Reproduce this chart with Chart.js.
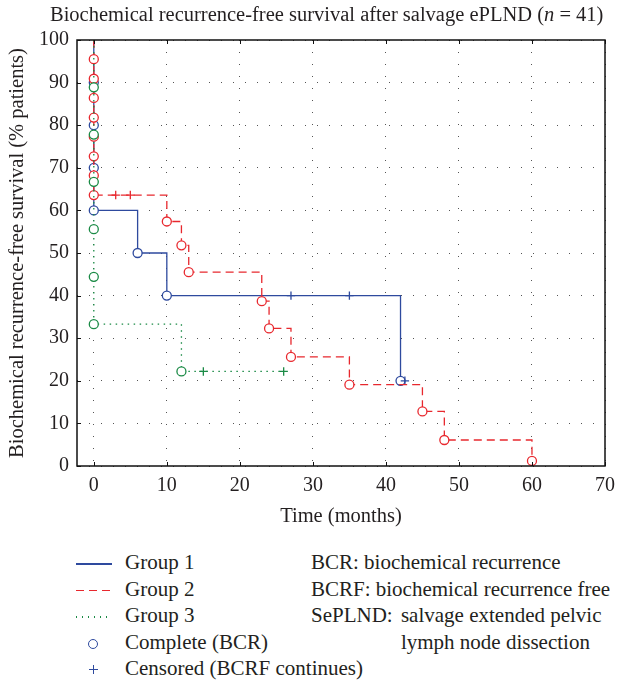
<!DOCTYPE html>
<html>
<head>
<meta charset="utf-8">
<script src="https://cdn.jsdelivr.net/npm/chart.js@4"></script>
<style>
  body { margin: 0; background: #fff; }
  #wrap { position: relative; width: 617px; height: 683px; font-family: "Liberation Serif", serif; color: #231f20; }
  #chartTitle { position: absolute; left: 50px; top: 3px; font-size: 20.5px; white-space: nowrap; }
  #survChart { position: absolute; left: 0; top: 0; }
  .legend { position: absolute; top: 549px; font-size: 21px; line-height: 26.5px; white-space: nowrap; }
  .sample { display: inline-block; position: relative; width: 36px; height: 10px; vertical-align: middle; margin-right: 13px; }
  .line { position: absolute; left: 0; right: 0; top: 4px; height: 1.5px; }
  .circle { position: absolute; left: 12px; top: 0; width: 8px; height: 8px; border: 1.3px solid #2e4a9e; border-radius: 50%; }
  .plus { position: absolute; left: 13px; top: 0; width: 9px; height: 9px;
    background: linear-gradient(#2e4a9e, #2e4a9e) center / 1.4px 9px no-repeat,
                linear-gradient(#2e4a9e, #2e4a9e) center / 9px 1.4px no-repeat; }
</style>
</head>
<body>
<div id="wrap">
  <canvas id="survChart" width="617" height="540"></canvas>
  <div id="chartTitle">Biochemical recurrence-free survival after salvage ePLND (<i>n</i> = 41)</div>
  <div class="legend" style="left:76px">
    <div><span class="sample"><span class="line" style="background:#2e4a9e"></span></span>Group 1</div>
    <div><span class="sample"><span class="line" style="background:repeating-linear-gradient(90deg,#e8282e 0 8px,transparent 8px 13px)"></span></span>Group 2</div>
    <div><span class="sample"><span class="line" style="background:repeating-linear-gradient(90deg,#1a8a45 0 1.5px,transparent 1.5px 6px)"></span></span>Group 3</div>
    <div><span class="sample"><span class="circle"></span></span>Complete (BCR)</div>
    <div><span class="sample"><span class="plus"></span></span>Censored (BCRF continues)</div>
  </div>
  <div class="legend" style="left:311px">
    <div>BCR: biochemical recurrence</div>
    <div>BCRF: biochemical recurrence free</div>
    <div>SePLND: <span style="display:inline-block;vertical-align:top;margin-left:3px">salvage extended pelvic<br>lymph node dissection</span></div>
  </div>
</div>
<script>
// Kaplan-Meier steps (months, % free)
const g1Months = [0, 0, 0, 0, 0, 6, 10, 27, 35, 42, 42.6];
const g1Surv = [100, 90, 80, 70, 60, 50, 40, 40, 40, 20, 20];
const g1Mark = ["", "o", "o", "o", "o", "o", "o", "+", "+", "o", "+"];

const g2Months = [0, 0, 0, 0, 0, 0, 0, 0, 0, 3, 5, 10, 12, 13, 23, 24, 27, 35, 45, 48, 60];
const g2Surv = [100, 95.5, 90.9, 86.4, 81.8, 77.3, 72.7, 68.2, 63.6, 63.6, 63.6, 57.4, 51.8, 45.5, 38.7, 32.3, 25.6, 19.1, 12.8, 6.1, 1.2];
const g2Mark = ["", "o", "o", "o", "o", "o", "o", "o", "o", "+", "+", "o", "o", "o", "o", "o", "o", "o", "o", "o", "o"];

const g3Months = [0, 0, 0, 0, 0, 0, 0, 12, 15, 26];
const g3Surv = [100, 88.9, 77.8, 66.7, 55.6, 44.4, 33.3, 22.2, 22.2, 22.2];
const g3Mark = ["", "o", "o", "o", "o", "o", "o", "o", "+", "+"];

const xTicks = [0, 10, 20, 30, 40, 50, 60, 70];
const yTicks = [0, 10, 20, 30, 40, 50, 60, 70, 80, 90, 100];

const blue = "#2e4a9e";
const red = "#e8282e";
const green = "#1a8a45";
const font = "'Liberation Serif', serif";

function makePoints(months, surv) {
  return months.map((m, i) => ({ x: m, y: surv[i] }));
}

function makeDataset(months, surv, marks, color, dash, order) {
  return {
    data: makePoints(months, surv),
    stepped: "before", // hold the level, then drop
    borderColor: color,
    borderWidth: 1.3,
    borderDash: dash,
    pointStyle: marks.map((m) => (m == "+" ? "cross" : "circle")),
    pointRadius: marks.map((m) => (m == "" ? 0 : m == "+" ? 4.2 : 4.5)),
    pointBorderColor: color,
    pointBackgroundColor: "#fff",
    pointBorderWidth: 1.3,
    pointHoverRadius: 0,
    order: order,
  };
}

// frame plus small inward ticks, like the original plot
const framePlugin = {
  id: "frame",
  afterDraw(chart) {
    const ctx = chart.ctx;
    const a = chart.chartArea;
    const xs = chart.scales.x;
    const ys = chart.scales.y;
    ctx.save();
    ctx.strokeStyle = "#111";
    ctx.lineWidth = 1.5;
    ctx.strokeRect(a.left, a.top, a.right - a.left, a.bottom - a.top);
    ctx.lineWidth = 1;
    ctx.beginPath();
    xTicks.forEach((v) => {
      const px = Math.round(xs.getPixelForValue(v)) + 0.5;
      ctx.moveTo(px, a.bottom);
      ctx.lineTo(px, a.bottom - 4);
      ctx.moveTo(px, a.top);
      ctx.lineTo(px, a.top + 4);
    });
    yTicks.forEach((v) => {
      const py = Math.round(ys.getPixelForValue(v)) + 0.5;
      ctx.moveTo(a.left, py);
      ctx.lineTo(a.left + 4, py);
    });
    ctx.stroke();
    ctx.restore();
  },
};

const survChart = new Chart(document.getElementById("survChart"), {
  type: "line",
  data: {
    datasets: [
      makeDataset(g1Months, g1Surv, g1Mark, blue, [], 2),
      makeDataset(g2Months, g2Surv, g2Mark, red, [8, 5], 1),
      makeDataset(g3Months, g3Surv, g3Mark, green, [1.5, 4.5], 0),
    ],
  },
  options: {
    responsive: false,
    animation: false,
    devicePixelRatio: 1,
    layout: { padding: { top: 40, right: 12, left: 0, bottom: 0 } },
    plugins: {
      legend: { display: false },
      tooltip: { enabled: false },
    },
    scales: {
      x: {
        type: "linear",
        min: -2.3,
        max: 70,
        afterBuildTicks: (s) => {
          s.ticks = xTicks.map((v) => ({ value: v }));
        },
        afterFit: (s) => {
          s.height = 74;
          s.paddingRight = 0;
          s.paddingLeft = 0;
        },
        ticks: { color: "#231f20", font: { family: font, size: 20 }, padding: 8 },
        grid: { color: "#555", lineWidth: 1, drawTicks: false },
        border: { display: false, dash: [1, 11] },
        title: {
          display: true,
          text: "Time (months)",
          color: "#231f20",
          font: { family: font, size: 20.5 },
          padding: { top: 0, bottom: 11 },
        },
      },
      y: {
        min: 0,
        max: 100,
        afterBuildTicks: (s) => {
          s.ticks = yTicks.map((v) => ({ value: v }));
        },
        afterFit: (s) => {
          s.width = 77;
        },
        ticks: { color: "#231f20", font: { family: font, size: 20 }, padding: 8 },
        grid: { color: "#555", lineWidth: 1, drawTicks: false },
        border: { display: false, dash: [1, 11] },
        title: {
          display: true,
          text: "Biochemical recurrence-free survival (% patients)",
          color: "#231f20",
          font: { family: font, size: 20.5 },
          padding: { top: 5, bottom: 0 },
        },
      },
    },
  },
  plugins: [framePlugin],
});
</script>
</body>
</html>
